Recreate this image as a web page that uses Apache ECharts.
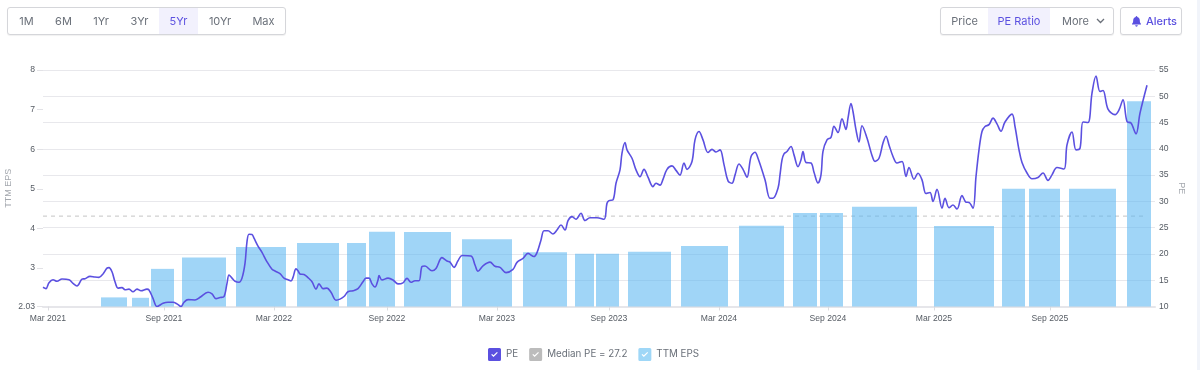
<!DOCTYPE html>
<html>
<head>
<meta charset="utf-8">
<style>
html,body{margin:0;padding:0;background:#fff;width:1200px;height:370px;overflow:hidden}
#chart{position:absolute;left:0;top:0;width:1200px;height:370px}
.box{position:absolute;top:7px;height:26px;border:1px solid #d5d6da;border-radius:3px;background:#fff;box-shadow:0 1px 1px rgba(0,0,0,.06);box-sizing:content-box}
.t{position:absolute;top:0;height:26px;text-align:center;font:11px/26px Inter,sans-serif;color:#6a7079;white-space:nowrap}
.on{background:#f2f1fd;color:#5b50e0}
#strip{position:absolute;left:1197px;top:0;width:3px;height:370px;background:#f1f4fa}
</style>
</head>
<body>
<div id="chart"></div>
<div class="box" style="left:7px;width:277px">
  <div class="t" style="left:0;width:37px">1M</div>
  <div class="t" style="left:37px;width:37px">6M</div>
  <div class="t" style="left:74px;width:38px">1Yr</div>
  <div class="t" style="left:112px;width:39px">3Yr</div>
  <div class="t on" style="left:151px;width:39px">5Yr</div>
  <div class="t" style="left:190px;width:44px">10Yr</div>
  <div class="t" style="left:234px;width:43px">Max</div>
</div>
<div class="box" style="left:940px;width:172px">
  <div class="t" style="left:0;width:47px">Price</div>
  <div class="t on" style="left:47px;width:62px">PE Ratio</div>
  <div class="t" style="left:109px;width:60px;text-align:left;padding-left:12px;box-sizing:border-box">More
    <svg width="9" height="6" viewBox="0 0 9 6" style="margin-left:4px;vertical-align:1px"><path d="M1 1l3.5 3.5L8 1" fill="none" stroke="#6a7079" stroke-width="1.3"/></svg>
  </div>
</div>
<div class="box" style="left:1120px;width:60px">
  <svg width="9" height="11" viewBox="0 0 9 11" style="position:absolute;left:11px;top:8px"><path d="M4.5 0c.5 0 .8.4.8.9C7 1.300 7.800 2.600 7.800 4.200c0 2 .4 2.800 1.200 3.600v.7H0v-.7c.8-.8 1.200-1.600 1.200-3.600C1.200 2.600 2 1.300 3.700.9 3.700.4 4 0 4.500 0zM3.200 9.300h2.600C5.800 10.100 5.200 10.700 4.500 10.700S3.200 10.100 3.200 9.300z" fill="#5b50e0"/></svg>
  <div class="t" style="left:25px;width:30px;color:#5b50e0;font-weight:500">Alerts</div>
</div>
<div id="strip"></div>
<script src="https://cdn.jsdelivr.net/npm/echarts@6/dist/echarts.min.js"></script>
<script>
// x values are trading-session indices along the axis
const tickSessions = [5,121,231,344,454,566,676,785,891,1007];
const tickLabels = ['Mar 2021','Sep 2021','Mar 2022','Sep 2022','Mar 2023','Sep 2023','Mar 2024','Sep 2024','Mar 2025','Sep 2025'];
const medianPE = 27.2;
const barStart = [58,89,108,139,193,254,304,326,361,419,480,532,553,585,638,696,750,777,809,891,959,986,1026,1084];
const barEnd   = [84,106,131,183,243,296,323,352,408,469,524,551,576,628,685,741,774,800,874,951,982,1017,1073,1108];
const barEps   = [2.26,2.25,2.98,3.27,3.53,3.63,3.63,3.92,3.91,3.73,3.40,3.36,3.36,3.41,3.56,4.07,4.39,4.39,4.55,4.06,5.00,5.00,5.00,7.21];
const pePoints = [
[0,13.65],[3,13.4],[6,14.54],[10,15.1],[14,14.8],[19,15.24],[26,15.1],[30,14.4],[34,13.9],[39,15.2],[42,15.3],[47,15.74],[52,15.6],[56,15.55],[60,16.2],[64,17.3],[66,17.4],[69,16.6],[72,14.7],[75,13.5],[79,13.6],[82,13.2],[86,13.3],[90,12.8],[94,13.3],[98,13.0],[104,13.3],[106,13.15],[110,11.55],[114,10.0],[120,10.6],[125,10.8],[130,10.8],[134,10.5],[138,10.0],[141,10.8],[145,11.3],[152,11.25],[157,11.75],[165,12.7],[169,12.4],[173,11.5],[177,11.7],[181,11.9],
[184,14.4],[186,16.0],[189,15.4],[192,14.8],[196,14.6],[199,15.4],[202,18.2],[204,22.35],[206,23.75],[209,23.7],[211,23.0],[215,21.5],[219,20.3],[224,18.5],[229,17.1],[232,16.75],[237,16.25],[241,15.4],[245,15.1],[248,14.85],[250,15.55],[253,17.15],[255,16.8],[257,16.2],[261,16.1],[265,15.5],[269,14.7],[273,13.3],[276,14.3],[280,13.4],[284,13.5],[288,12.7],[293,11.2],[297,11.4],[301,11.9],[305,12.8],[310,13.0],[315,13.4],[320,14.7],[323,15.4],[326,15.4],[329,14.3],[332,13.7],[335,15.05],[336,15.9],[339,15.05],[345,15.4],[350,15.05],[355,14.3],
[360,14.5],[364,15.35],[368,14.6],[372,14.9],[376,14.9],[379,17.6],[382,17.7],[389,16.8],[393,17.25],[399,19.3],[404,18.65],[407,18.45],[411,17.45],[415,18.7],[419,19.7],[428,19.6],[432,17.9],[435,16.7],[440,17.75],[447,18.45],[452,17.65],[457,17.45],[463,16.45],[470,17.05],[474,18.4],[480,19.15],[485,20.1],[491,19.5],[494,20.25],[498,22.65],[501,24.4],[505,24.4],[510,23.8],[514,24.55],[518,25.5],[522,24.55],[525,26.35],[529,27.1],[533,26.6],[538,27.75],[542,26.35],[547,26.9],[554,26.9],[561,26.6],[564,29.65],[566,30.15],[570,30.3],[573,33.45],[577,36.0],[579,39.2],[582,41.2],[584,39.8],[589,38.2],[593,36.0],[597,34.7],[601,36.1],[605,34.6],[610,32.8],[613,33.45],[617,33.1],[620,34.2],[624,36.1],[629,36.75],[633,35.9],[637,35.0],[641,37.3],[644,36.1],[649,37.6],[652,41.7],[656,43.3],[660,41.7],[665,39.3],[669,39.9],[673,39.4],[677,39.8],[681,37.0],[685,33.9],[689,33.45],[692,35.0],[696,37.1],[700,36.1],[704,34.6],[708,38.5],[712,39.35],[715,38.2],[722,34.1],[727,30.6],[730,30.6],[735,32.5],
[737,35.05],[739,37.9],[741,39.05],[744,39.5],[748,40.45],[751,38.85],[755,36.6],[758,37.9],[760,39.5],[763,37.4],[768,37.3],[771,35.55],[775,33.5],[778,35.05],[780,39.5],[784,41.7],[788,42.2],[791,44.3],[795,43.1],[799,45.7],[803,43.7],[805,45.85],[808,48.6],[810,47.1],[813,43.6],[816,41.3],[819,44.4],[824,42.05],[829,38.75],[832,37.6],[836,38.2],[840,41.1],[843,42.4],[846,40.75],[850,38.55],[854,37.3],[859,37.6],[863,34.75],[866,36.45],[871,34.2],[875,35.35],[879,34.1],[883,31.5],[887,31.7],[890,30.0],[894,32.3],[899,28.7],[902,30.6],[906,28.8],[910,29.3],[914,28.55],[919,31.1],[923,29.85],
[926,29.8],[930,28.7],[933,34.7],[936,39.8],[939,43.3],[942,44.25],[946,44.6],[950,45.85],[954,44.75],[958,43.35],[962,45.1],[969,46.6],[972,44.25],[976,39.8],[979,37.4],[984,35.4],[989,34.3],[995,34.55],[1000,35.4],[1005,34.0],[1009,35.05],[1014,36.45],[1021,36.15],[1024,40.75],[1029,43.2],[1033,39.8],[1037,40.1],[1040,45.1],[1045,45.0],[1049,50.6],[1053,53.85],[1057,50.9],[1060,51.1],[1065,47.55],[1072,46.5],[1076,47.4],[1080,49.35],[1084,45.2],[1088,44.9],[1093,42.85],[1097,46.8],[1104,52.1]
];
const epsTicks = [2.03,3,4,5,6,7,8];
const sessionMax = 1112;

const lastSession = pePoints[pePoints.length-1][0];
const barData = barStart.map((s,i)=>[s,barEnd[i],barEps[i]]);
const checkIcon = 'path://M2 0H15A2 2 0 0 1 17 2V15A2 2 0 0 1 15 17H2A2 2 0 0 1 0 15V2A2 2 0 0 1 2 0ZM4.200 8.800L7.200 11.800L12.800 6.200L11.700 5.100L7.200 9.600L5.300 7.700Z';
const axisFont = {fontFamily:'"Liberation Sans",Arial,sans-serif',fontSize:8.6};
const chart = echarts.init(document.getElementById('chart'),null,{renderer:'canvas'});
chart.setOption({
  animation:false,
  textStyle:{fontFamily:'Inter,sans-serif'},
  grid:{left:43,right:45,top:70,bottom:63.5,containLabel:false,outerBoundsMode:'none'},
  legend:{
    left:483,top:343,itemWidth:13,itemHeight:13,itemGap:11,
    textStyle:{fontFamily:'Inter,sans-serif',fontSize:9.8,color:'#6a7079',padding:[0,0,0,0]},
    selectedMode:false,
    data:[
      {name:'PE',icon:checkIcon,itemStyle:{color:'#5b50e0'}},
      {name:'Median PE = '+medianPE,icon:checkIcon,itemStyle:{color:'#bcbcbc'}},
      {name:'TTM EPS',icon:checkIcon,itemStyle:{color:'#9fd7f7'}}
    ]
  },
  xAxis:{
    type:'value',min:0,max:sessionMax,splitLine:{show:false},
    axisLine:{show:true,lineStyle:{color:'#e6e6ea',width:2}},
    axisTick:{show:true,length:4,lineStyle:{color:'#dcdce0'},customValues:tickSessions},
    axisLabel:{customValues:tickSessions,color:'#555b63',margin:8,...axisFont,hideOverlap:false,
      formatter:v=>tickLabels[tickSessions.indexOf(v)]||''}
  },
  yAxis:[
    {type:'value',min:2.03,max:8,position:'left',splitLine:{show:false},
     name:'TTM EPS',nameLocation:'middle',nameGap:30,nameMoveOverlap:false,
     nameTextStyle:{color:'#a4a8ae',...axisFont,fontSize:9},
     axisLine:{show:false},
     axisTick:{show:true,length:6,lineStyle:{color:'#e2e2e6'},customValues:epsTicks},
     axisLabel:{customValues:epsTicks,color:'#555b63',margin:8,...axisFont}},
    {type:'value',min:10,max:55,interval:5,position:'right',
     name:'PE',nameLocation:'middle',nameGap:22,nameRotate:-90,nameMoveOverlap:false,
     nameTextStyle:{color:'#a4a8ae',...axisFont,fontSize:9},
     splitLine:{show:true,lineStyle:{color:'#e8e8ec',width:1}},
     axisLine:{show:false},axisTick:{show:false},
     axisLabel:{color:'#555b63',margin:4,...axisFont}}
  ],
  series:[
    {name:'Median PE = '+medianPE,type:'line',yAxisIndex:1,z:1,showSymbol:false,silent:true,
     data:[[0,medianPE],[lastSession,medianPE]],
     itemStyle:{color:'#c4c4c4'},
     lineStyle:{color:'#c4c4c4',width:1,type:[4,4]}},
    {name:'TTM EPS',type:'custom',yAxisIndex:0,z:2,data:barData,
     encode:{x:[0,1],y:2},
     itemStyle:{color:'#9fd7f7'},
     renderItem:function(params,api){
       const a=api.coord([api.value(0),api.value(2)]);
       const b=api.coord([api.value(1),2.03]);
       return {type:'rect',shape:{x:a[0],y:a[1],width:b[0]-a[0],height:b[1]-a[1]},
               style:{fill:'rgba(91,182,241,0.58)'}};
     }},
    {name:'PE',type:'line',yAxisIndex:1,z:3,showSymbol:false,smooth:0.35,data:pePoints,
     itemStyle:{color:'#5b50e0'},
     lineStyle:{color:'#5b50e0',width:1.6}}
  ]
});
</script>
</body>
</html>
